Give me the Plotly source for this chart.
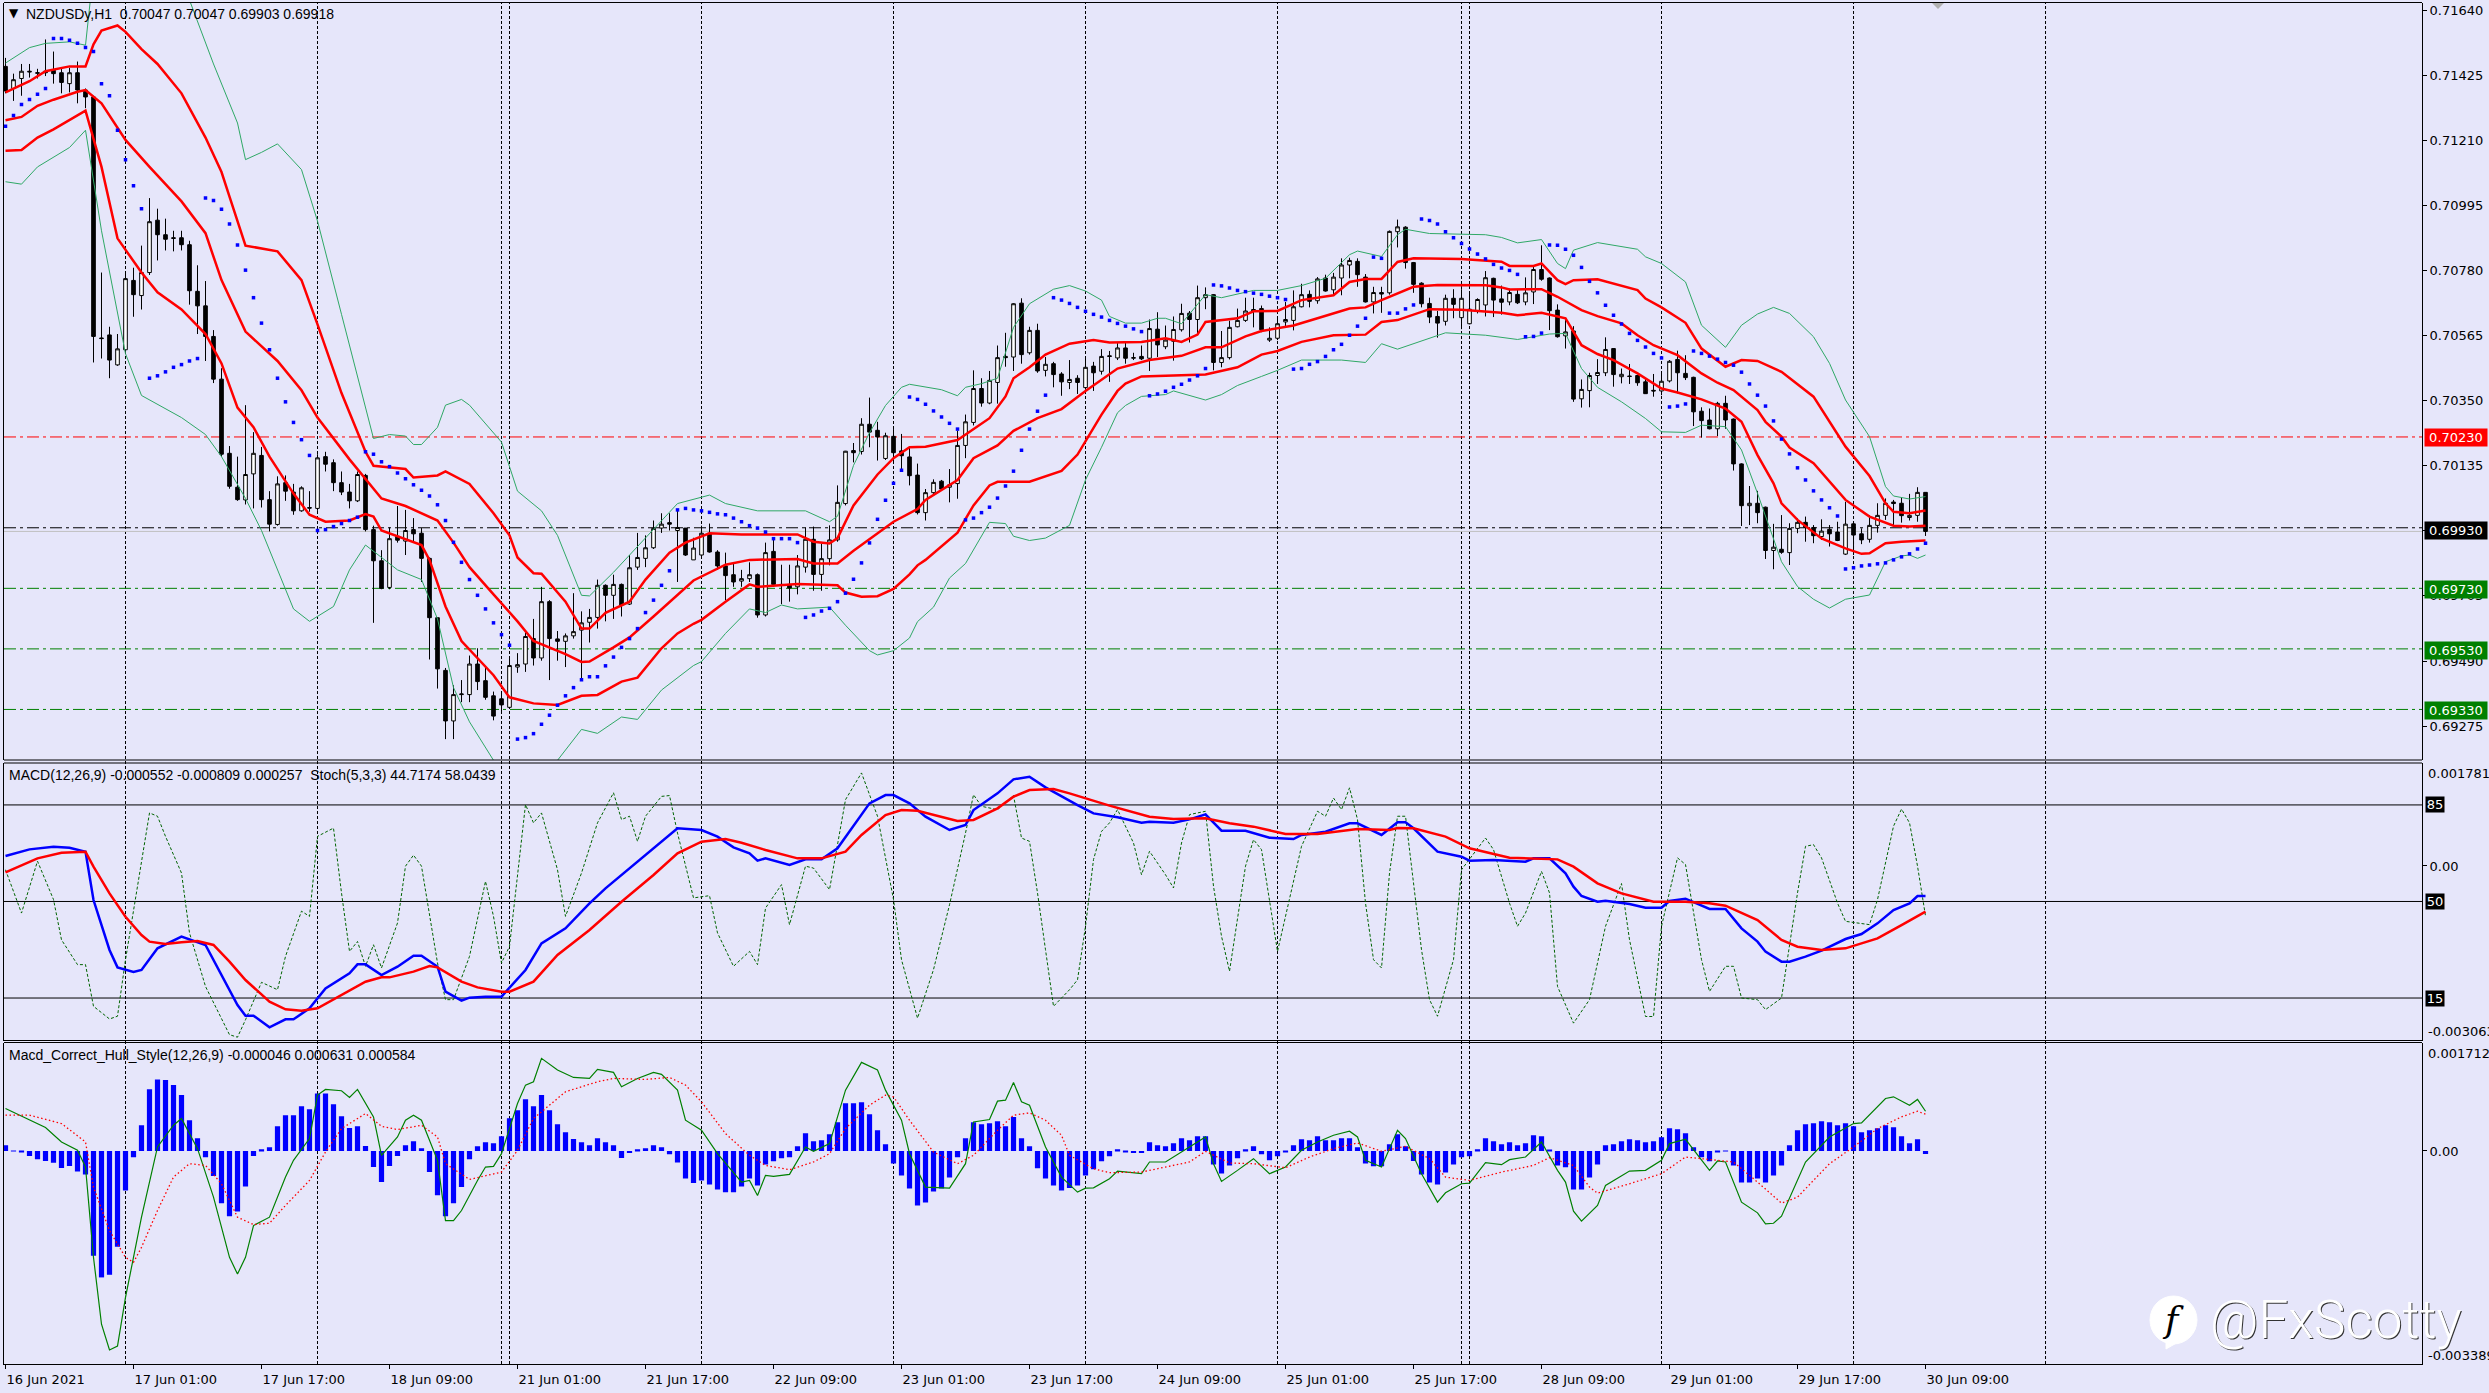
import plotly.graph_objects as go

W, H = 2489, 1393
def px(x): return x / W
def py(y): return 1 - y / H

# ---------- candles (price points, 1e-5) ----------
open_ = [71454,71381,71414,71438,71431,71438,71441,71433,71397,71433,
71376,71353,70557,70567,70468,70518,70747,70697,70773,70946,
70898,70888,70888,70865,70711,70663,70562,70421,70176,70064,
70022,70108,70169,70023,69941,70079,70048,69986,69997,69994,
70165,70145,70079,70048,70019,70103,69924,69821,69733,69902,
69886,69924,69912,69829,69633,69459,69292,69379,69379,69480,
69425,69375,69365,69337,69470,69480,69564,69500,69686,69563,
69555,69573,69592,69618,69634,69740,69707,69743,69678,69800,
69829,69864,69929,69947,69921,69929,69824,69840,69912,69850,
69804,69775,69754,69762,69775,69642,69852,69743,69743,69735,
69800,69892,69776,69828,69890,70010,70185,70182,70272,70252,
70159,70232,70184,70164,70104,69980,70046,70084,70064,70076,
70202,70278,70390,70342,70410,70496,70494,70672,70508,70582,
70450,70472,70438,70410,70424,70393,70464,70447,70498,70491,
70524,70490,70496,70490,70586,70528,70546,70584,70639,70618,
70690,70700,70476,70492,70594,70615,70651,70654,70550,70556,
70610,70615,70660,70701,70680,70755,70716,70755,70798,70810,
70758,70676,70707,70706,70908,70923,70806,70738,70671,70628,
70612,70688,70624,70604,70647,70666,70754,70686,70676,70701,
70676,70709,70783,70755,70649,70564,70580,70356,70383,70433,
70442,70522,70429,70431,70433,70412,70384,70382,70415,70486,
70440,70427,70315,70286,70257,70341,70289,70141,70003,70011,
69998,69855,69859,69848,69928,69948,69931,69901,69925,69916,
69843,69943,69910,69892,69938,69971,70015,70011,69964,69971,70047]
high = [71482,71430,71462,71462,71446,71543,71503,71449,71449,71470,
71381,71357,70773,70594,70570,70773,70789,70862,71019,70984,
70951,70911,70911,70878,70797,70745,70583,70457,70200,70165,
70335,70246,70197,70051,70100,70103,70075,70067,70051,70173,
70181,70156,70116,70075,70116,70108,69937,69856,69931,70002,
69989,69962,69929,69832,69633,69467,69410,69427,69508,69532,
69470,69389,69389,69503,69516,69584,69629,69735,69691,69589,
69581,69714,69654,69662,69759,69743,69775,69746,69840,69913,
69905,69954,69978,69978,69986,69929,69897,69937,69944,69856,
69848,69816,69791,69816,69779,69881,69897,69808,69808,69840,
69932,69934,69878,69938,70070,70184,70210,70292,70360,70280,
70244,70256,70240,70196,70142,70058,70090,70088,70124,70250,
70304,70450,70424,70448,70532,70574,70672,70688,70594,70604,
70494,70478,70444,70484,70434,70494,70478,70520,70514,70540,
70542,70508,70532,70618,70642,70598,70628,70670,70646,70730,
70724,70702,70580,70614,70654,70690,70690,70664,70592,70626,
70676,70714,70736,70714,70758,70766,70772,70820,70822,70820,
70768,70726,70726,70912,70948,70926,70808,70741,70690,70646,
70700,70718,70718,70712,70688,70778,70756,70730,70720,70718,
70757,70797,70863,70757,70668,70621,70596,70420,70442,70487,
70559,70522,70456,70471,70434,70423,70438,70438,70484,70515,
70500,70429,70328,70324,70346,70366,70291,70143,70068,70052,
70000,69943,69972,69945,69961,69967,69939,69958,69939,69950,
70016,69950,69928,69972,70011,70027,70022,70031,70042,70064,70047]
low = [71365,71340,71357,71417,71414,71422,71397,71365,71368,71332,
71316,70476,70489,70424,70465,70505,70627,70651,70765,70813,
70846,70843,70846,70667,70570,70481,70408,70165,70059,70019,
70007,69994,69997,69918,69937,70019,69973,69983,69983,69986,
70116,70051,70038,69994,70015,69918,69616,69727,69727,69881,
69840,69881,69751,69495,69399,69232,69232,69354,69354,69394,
69362,69294,69321,69334,69451,69454,69475,69491,69427,69491,
69470,69564,69431,69551,69597,69621,69629,69637,69675,69791,
69800,69860,69913,69921,69751,69837,69824,69837,69848,69791,
69691,69735,69735,69751,69633,69637,69735,69678,69686,69710,
69782,69722,69722,69806,69884,70004,70146,70172,70196,70152,
70154,70142,70118,70070,69974,69954,70042,70052,70014,70026,
70160,70268,70330,70338,70340,70462,70448,70472,70502,70442,
70430,70394,70366,70388,70372,70386,70382,70436,70412,70484,
70472,70484,70484,70448,70494,70520,70482,70578,70542,70568,
70652,70450,70460,70486,70592,70610,70592,70576,70544,70550,
70590,70582,70658,70658,70670,70710,70700,70698,70754,70726,
70674,70638,70640,70700,70856,70786,70706,70658,70606,70558,
70598,70622,70586,70602,70638,70628,70626,70634,70665,70669,
70665,70669,70746,70583,70558,70522,70346,70327,70328,70405,
70431,70396,70407,70405,70399,70372,70363,70368,70410,70374,
70418,70266,70228,70255,70233,70257,70119,69936,69939,69945,
69827,69793,69844,69807,69912,69884,69879,69890,69868,69886,
69840,69840,69876,69881,69914,69956,69934,69947,69954,69950,69903]
close = [71373,71410,71438,71436,71433,71433,71430,71401,71433,71376,
71353,70562,70555,70484,70521,70753,70700,70773,70941,70898,
70883,70886,70865,70713,70663,70562,70421,70173,70067,70023,
70106,70176,70023,69942,70075,70051,69986,70062,69995,70161,
70140,70079,70048,70019,70106,69924,69821,69730,69894,69889,
69921,69910,69829,69633,69464,69292,69379,69381,69480,69422,
69370,69308,69345,69475,69478,69571,69500,69686,69564,69555,
69573,69587,69616,69634,69740,69707,69743,69675,69798,69832,
69864,69928,69942,69942,69931,69840,69863,69912,69850,69804,
69772,69751,69762,69775,69642,69848,69743,69741,69731,69804,
69892,69776,69828,69890,70014,70183,70178,70272,70246,70230,
70234,70178,70168,70102,69980,70046,70080,70058,70072,70202,
70280,70390,70342,70417,70492,70492,70670,70502,70582,70448,
70470,70436,70412,70420,70410,70460,70442,70496,70496,70524,
70490,70492,70488,70588,70534,70550,70585,70638,70618,70690,
70700,70476,70492,70592,70615,70646,70646,70584,70556,70604,
70618,70660,70700,70678,70752,70712,70758,70798,70813,70766,
70676,70707,70702,70909,70924,70806,70734,70670,70626,70606,
70688,70668,70688,70652,70684,70756,70682,70675,70707,70673,
70706,70783,70751,70647,70561,70577,70355,70387,70433,70443,
70519,70436,70437,70430,70409,70373,70382,70414,70480,70442,
70426,70313,70284,70257,70341,70286,70141,70003,70011,69980,
69855,69866,69849,69928,69948,69931,69904,69919,69910,69888,
69942,69906,69890,69938,69971,70011,70010,69970,69971,70047,69918]

# ---------- parabolic SAR, one per bar ----------
sar = [71256,71292,71328,71345,71362,71381,71546,71546,71540,71530,
71516,71503,71397,71357,71243,71146,71060,70984,70424,70432,
70445,70460,70469,70481,70489,71019,71011,70982,70933,70864,
70781,70690,70606,70518,70424,70346,70278,70221,70169,69921,
69924,69934,69944,69954,69965,70181,70173,70148,70132,70111,
70092,70072,70054,70035,70006,69954,69882,69816,69759,69707,
69662,69616,69577,69542,69232,69237,69250,69281,69311,69344,
69375,69402,69428,69438,69438,69474,69503,69535,69564,69597,
69650,69691,69740,69788,69989,69994,69989,69986,69981,69976,
69973,69962,69950,69937,69929,69916,69894,69894,69894,69881,
69634,69642,69655,69664,69686,69714,69760,69814,69880,69958,
70021,70077,70120,70362,70354,70338,70316,70296,70275,70256,
69956,69962,69980,69998,70028,70068,70117,70186,70256,70315,
70368,70690,70682,70671,70658,70645,70635,70626,70615,70605,
70596,70587,70578,70366,70372,70381,70394,70404,70418,70432,
70456,70732,70729,70722,70714,70710,70705,70701,70695,70690,
70684,70454,70456,70470,70479,70496,70518,70536,70566,70596,
70622,70824,70820,70639,70639,70653,70666,70950,70945,70933,
70908,70888,70869,70851,70834,70818,70800,70788,70780,70767,
70561,70562,70573,70864,70863,70850,70830,70790,70744,70706,
70665,70632,70603,70572,70549,70527,70506,70491,70329,70332,
70339,70514,70506,70497,70487,70476,70467,70444,70405,70368,
70332,70283,70223,70174,70128,70088,70052,70022,69996,69969,
69794,69798,69804,69807,69811,69814,69824,69834,69844,69860,69879]

# ---------- red envelope ----------
red_up_i = [0,3,5,8,10,11,12,14,15,17,19,22,25,27,28,30,34,37,39,42,45,46,50,51,54,55,58,61,63,64,66,67,70,72,73,75,78,80,83,85,88,92,95,99,101,103,104,106,109,111,113,115,119,121,123,125,126,128,130,133,136,138,142,145,147,149,150,154,156,159,162,166,168,170,172,174,176,182,185,187,188,191,192,194,195,196,199,201,204,205,207,210,212,215,217,219,222,226,227,230,233,235,236,238,240]
red_up = [71368,71405,71438,71454,71454,71527,71572,71589,71568,71511,71462,71365,71219,71105,71024,70862,70843,70748,70602,70375,70181,70135,70124,70096,70103,70116,70075,69978,69905,69832,69780,69778,69686,69597,69597,69649,69686,69759,69848,69881,69912,69908,69908,69908,69884,69878,69896,70004,70106,70160,70196,70198,70220,70256,70292,70364,70424,70460,70502,70538,70550,70542,70544,70556,70544,70568,70610,70622,70645,70646,70682,70698,70742,70752,70752,70808,70820,70818,70814,70809,70795,70795,70803,70748,70735,70748,70751,70737,70715,70687,70658,70607,70522,70462,70484,70481,70445,70363,70322,70198,70101,70011,69983,69978,69987]
red_mid_i = [0,2,4,6,9,10,12,15,18,22,25,27,30,34,37,39,43,45,47,50,54,56,58,61,64,66,70,72,73,76,78,81,84,86,90,93,99,101,104,106,111,114,115,119,121,124,126,129,132,135,139,143,147,150,152,155,157,161,164,168,170,172,176,179,185,187,188,192,194,197,199,202,204,206,209,212,214,216,219,220,222,223,226,228,230,233,236,238,240]
red_mid = [71276,71287,71324,71344,71370,71376,71332,71211,71122,71008,70903,70748,70578,70481,70384,70294,70156,70092,70027,70002,69954,69881,69800,69710,69621,69556,69513,69487,69488,69535,69568,69637,69710,69756,69808,69824,69827,69812,69812,69854,69950,69992,70022,70088,70160,70202,70250,70292,70322,70382,70456,70484,70498,70526,70526,70562,70580,70598,70622,70654,70658,70682,70726,70732,70731,70724,70717,70718,70693,70649,70629,70605,70566,70533,70500,70440,70409,70385,70319,70280,70231,70195,70143,70082,70022,69967,69937,69934,69937]
red_lo_i = [0,2,4,6,10,12,14,17,19,22,25,27,29,31,33,36,38,40,43,45,46,47,52,53,55,57,61,63,66,69,72,74,77,79,82,84,86,87,90,93,94,99,104,105,107,109,111,113,114,115,119,121,123,124,128,132,134,137,139,140,142,150,154,157,159,162,166,170,172,174,178,182,187,189,192,195,197,199,201,204,207,209,212,215,217,219,221,222,224,227,230,232,233,235,237,240]
red_lo = [71175,71178,71219,71246,71308,71122,70886,70773,70708,70651,70570,70473,70327,70262,70165,70043,69973,69950,69954,69975,69967,69921,69873,69824,69670,69556,69443,69370,69350,69345,69375,69378,69422,69435,69532,69581,69613,69626,69686,69743,69735,69744,69740,69716,69702,69704,69728,69776,69806,69824,69914,70004,70070,70082,70082,70118,70172,70304,70382,70406,70430,70436,70460,70502,70514,70544,70566,70568,70610,70616,70652,70650,70640,70632,70640,70622,70533,70504,70484,70440,70390,70377,70354,70324,70280,70170,70077,70011,69956,69895,69862,69844,69846,69879,69884,69888]

# ---------- green envelope ----------
grn_up_i = [0,3,5,8,10,11,15,21,23,26,29,30,32,34,37,39,42,45,46,48,50,51,52,54,55,57,58,62,63,64,67,69,72,73,76,78,82,84,88,90,94,99,100,103,104,106,108,110,112,113,115,117,119,120,122,124,126,128,131,133,135,137,138,140,142,144,145,147,150,152,156,159,162,165,168,169,172,174,175,178,185,187,189,192,194,195,196,199,204,205,207,210,212,215,217,219,221,223,226,228,230,233,235,236,238,240]
grn_up = [71465,71516,71530,71535,71524,71770,71868,71754,71673,71462,71267,71146,71170,71198,71113,70943,70635,70327,70225,70238,70233,70205,70205,70262,70335,70354,70335,70213,70132,70051,69986,69905,69707,69705,69783,69840,69954,70010,70038,70010,69986,69986,69986,69950,69968,70136,70244,70334,70394,70404,70394,70386,70366,70394,70406,70424,70592,70670,70718,70730,70712,70682,70628,70606,70606,70622,70622,70604,70700,70690,70714,70714,70730,70754,70832,70844,70826,70898,70916,70902,70898,70889,70871,70882,70803,70786,70847,70872,70850,70825,70803,70742,70599,70526,70599,70636,70658,70638,70561,70473,70352,70231,70066,70035,70025,70033]
grn_lo_i = [0,2,4,8,10,12,15,17,22,25,27,30,32,34,36,38,41,43,45,47,49,52,54,56,58,61,65,68,69,72,74,77,79,82,86,87,90,93,95,97,99,103,105,108,109,111,113,114,116,118,120,123,125,126,128,130,133,135,137,139,140,142,145,146,150,152,154,157,159,162,167,170,172,174,176,180,185,187,189,193,195,197,199,202,205,207,210,212,215,217,219,222,224,226,228,230,233,235,237,238,239,240]
grn_lo = [71073,71065,71122,71186,71243,70911,70505,70367,70294,70238,70165,70027,69921,69791,69662,69621,69670,69791,69873,69832,69791,69759,69629,69402,69289,69162,68997,69045,69162,69264,69251,69305,69297,69394,69475,69488,69581,69662,69650,69675,69662,69668,69608,69524,69510,69524,69566,69620,69668,69764,69812,69948,69944,69902,69888,69896,69938,70088,70196,70310,70334,70364,70370,70382,70352,70370,70400,70430,70450,70484,70484,70476,70538,70520,70538,70574,70566,70558,70552,70570,70572,70456,70394,70346,70291,70247,70245,70269,70264,70187,70044,69818,69736,69694,69665,69694,69708,69818,69837,69840,69829,69840]

# ---------- MACD panel (1e-6) ----------
macd_i = [0,3,6,8,10,11,13,14,16,17,19,22,25,26,29,30,31,33,35,36,38,40,43,44,45,47,49,51,52,54,55,57,58,60,62,65,67,70,73,75,77,81,84,87,89,91,93,94,95,98,100,102,104,108,110,111,113,115,118,120,121,124,126,128,130,134,136,139,142,143,146,148,150,152,155,158,161,162,165,168,169,172,174,175,176,179,182,183,186,190,191,193,195,196,197,199,200,203,205,207,208,210,213,215,217,219,220,222,223,225,227,230,232,234,236,238,239,240]
macd = [173,289,336,318,249,-592,-1461,-1763,-1844,-1809,-1432,-1229,-1374,-1635,-2418,-2603,-2603,-2806,-2667,-2667,-2476,-2128,-1867,-1711,-1711,-1896,-1751,-1560,-1560,-1751,-2186,-2342,-2290,-2273,-2273,-1809,-1345,-1085,-650,-389,-157,307,655,626,510,324,220,92,133,17,115,115,307,1089,1234,1234,1089,858,626,713,973,1263,1507,1553,1368,1060,915,846,753,771,753,811,898,614,614,492,469,539,597,742,742,539,759,759,655,249,162,92,104,75,133,133,-128,-360,-522,-621,-603,-661,-725,-725,-609,-569,-748,-748,-1085,-1316,-1490,-1664,-1664,-1577,-1473,-1270,-1183,-998,-766,-650,-522,-522]
signal_i = [0,2,4,7,10,11,13,15,17,18,20,22,24,26,28,30,33,35,37,39,42,45,47,48,51,53,54,57,59,62,63,66,69,73,77,81,84,87,90,92,95,99,102,105,107,110,112,114,119,121,124,126,128,131,133,138,143,146,150,153,156,160,164,169,173,174,176,180,183,186,188,194,196,199,202,206,210,213,215,219,222,224,227,230,234,237,240]
signal = [-111,17,133,231,249,-12,-476,-882,-1200,-1316,-1357,-1328,-1305,-1374,-1664,-1983,-2360,-2493,-2516,-2476,-2244,-2012,-1937,-1937,-1838,-1740,-1763,-2012,-2111,-2186,-2186,-2012,-1548,-1113,-621,-157,220,423,469,405,278,133,133,249,539,886,973,962,782,800,1002,1205,1321,1339,1263,1049,858,817,829,742,684,556,556,643,626,660,655,510,307,208,144,115,-12,-302,-476,-621,-621,-650,-690,-940,-1287,-1403,-1461,-1432,-1258,-1027,-795]
stoch_i = [0,2,4,6,7,9,10,11,13,14,15,17,18,19,20,22,23,25,26,28,29,30,32,34,35,37,38,39,41,42,43,44,45,46,47,49,50,51,52,54,55,56,58,60,61,62,63,65,66,67,69,70,72,74,76,77,78,79,80,82,83,84,86,88,89,91,93,94,95,97,98,100,101,103,105,107,109,111,112,114,116,118,120,121,122,124,126,127,128,129,130,131,133,134,135,136,137,138,139,141,142,143,145,146,147,148,150,151,152,153,155,156,157,159,162,164,165,166,167,168,169,170,171,172,173,174,175,177,178,179,181,182,185,186,188,189,190,192,193,194,196,198,200,202,203,205,206,207,209,210,212,213,215,216,217,219,220,222,224,225,226,227,229,230,233,234,236,237,238,239,240]
stoch = [61.5,45.8,64.6,50.7,36.1,27.1,27.1,12,7.4,8.4,28.9,65.2,82.1,80.9,73.6,60.3,38.6,19.2,13.2,1.7,0.8,7.1,20.7,18,30.1,46.5,44.6,73.6,76.6,53.1,31.9,35.5,26.5,34.3,25.9,42.2,62.8,66.8,62.8,27.7,14.4,14.4,30.1,57.3,44.6,27.7,33.7,85.1,78.5,82.1,61.5,44.6,60.3,78.5,89.4,79.7,80.9,71.8,80.9,88.1,88.4,74.8,51.3,52.1,38.6,26.5,31.9,27.1,47.6,56.1,41.6,62.8,62.1,54.3,86.9,96.6,80.9,50.7,28.9,7.7,25.3,48.8,74.8,88.7,84.5,83.3,88.4,73,71.8,53.1,32.5,12,18,21.6,41,65.2,75.4,78.5,83.3,71.2,59.7,68.2,59.7,54.9,71.2,81.5,82.7,55.5,37.4,24.7,62.8,72.4,68.8,31.9,70,82.7,80.9,87.5,83.3,91.2,79.7,49.4,28.9,25.9,60.3,80.9,80.9,32.5,14.4,8.4,28.9,61.5,73,68.8,49.4,41,45.8,60.9,53.1,19.2,5.9,14.4,41,56.5,36.1,8.3,8.3,41,65.8,63.4,28.9,17.4,26.5,26.5,15,14.4,10.8,15,53.1,70,70.6,65.8,49.4,42.8,41.6,50.7,77.3,83.5,78.5,62.8,44.7]

# ---------- Hull MACD panel (1e-6) ----------
hist = [90,5,-10,-80,-133,-160,-186,-271,-239,-324,-372,-1664,-2009,-1967,-1520,-627,-101,409,983,1137,
1127,1047,888,489,202,-101,-399,-829,-1036,-962,-563,-80,27,58,393,569,569,712,664,914,
914,744,553,367,393,80,-255,-494,-239,-80,90,154,43,-335,-702,-1036,-829,-574,-133,74,
138,122,234,521,648,824,712,888,648,425,298,191,138,90,202,138,90,-112,-32,27,
43,90,58,-53,-181,-436,-510,-468,-532,-611,-654,-654,-563,-436,-547,-213,-165,-117,-101,74,
282,154,170,266,457,760,760,776,585,330,106,-197,-388,-595,-866,-819,-643,-595,-420,-101,
202,457,425,441,473,393,542,202,74,-276,-436,-547,-627,-590,-547,-388,-292,-165,-85,27,
-11,-32,-32,138,90,74,122,202,170,234,234,-213,-356,-229,-117,27,74,-53,-149,-85,
-21,90,186,170,234,170,170,202,202,58,-197,-244,-244,106,266,74,-159,-372,-500,-532,
-340,-213,-101,-85,27,202,154,106,138,90,122,250,234,11,-229,-260,-611,-611,-420,-213,
90,106,154,186,170,138,154,218,361,345,282,58,-101,-165,-21,-5,-229,-500,-500,-436,
-500,-388,-229,90,330,425,441,473,457,409,441,393,298,330,361,409,377,234,122,186,-46]
hull_i = [0,2,5,7,9,10,11,12,13,14,15,17,19,21,22,24,26,28,29,30,31,33,35,36,38,39,40,42,43,44,46,47,49,50,51,52,54,55,56,57,59,60,61,62,64,65,66,67,69,71,73,74,76,77,79,81,82,84,85,87,89,92,93,94,95,96,98,100,101,103,105,107,109,110,112,113,115,118,120,121,123,124,125,126,127,128,130,132,134,135,136,138,139,142,143,145,147,150,151,152,154,156,158,160,162,164,166,168,169,170,172,174,175,176,177,179,180,182,183,185,187,188,190,192,194,195,196,197,199,200,203,205,207,208,210,213,214,215,217,219,220,221,222,225,228,231,232,235,236,238,239,240]
hull = [675,553,372,144,11,-255,-1690,-2753,-3162,-3099,-2328,-1052,64,409,516,37,-733,-1690,-1956,-1690,-1185,-1052,-415,-149,197,888,978,957,850,978,542,-69,223,489,569,489,-149,-1106,-1106,-946,-468,-255,-244,-43,755,1047,1100,1472,1286,1169,1153,1297,1249,1020,1153,1249,1217,967,489,330,-43,-494,-468,-707,-388,-404,-372,64,-5,117,967,1408,1286,967,489,-43,-574,-590,-202,462,500,792,808,1090,781,728,64,-415,-654,-590,-585,-441,-319,-361,-175,-175,-16,223,-202,-484,-308,-122,-361,-255,11,143,250,314,223,-149,-255,330,197,-69,-361,-813,-664,-521,-510,-186,-218,-138,-96,143,-308,-494,-956,-1116,-866,-547,-319,-308,-149,117,186,-308,-159,-175,-813,-983,-1159,-1148,-1036,-175,223,436,446,834,861,728,819,631]
hull_sig_i = [0,3,7,10,11,13,15,16,17,19,21,23,25,27,29,31,33,35,38,40,42,45,47,49,52,54,55,58,62,64,66,70,74,76,80,83,85,87,90,93,95,98,101,103,105,108,110,111,113,116,119,121,124,126,128,130,132,133,136,138,142,144,148,150,153,156,160,163,166,169,172,175,178,180,183,187,191,193,196,198,199,203,207,210,214,216,219,222,224,228,231,234,237,239,240]
hull_sig = [569,569,436,144,-574,-1265,-1690,-1770,-1531,-946,-415,-202,-229,-521,-1052,-1169,-1148,-866,-468,-16,356,595,393,340,409,223,-202,-452,-335,11,516,941,1100,1153,1137,1169,1047,781,276,-69,-229,-298,-175,-43,356,728,888,861,489,-16,-202,-69,330,569,606,489,250,-69,-282,-345,-335,-282,-175,-5,-191,-202,-266,-96,37,128,-5,74,-122,-415,-468,-335,-229,-106,-229,-574,-670,-521,-361,-96,-149,-175,-494,-829,-733,-202,64,356,542,632,584]

# ---------- axis and label text ----------
x_tick_idx = [0] + [16 * k for k in range(1, 16)]
x_tick_txt = ["16 Jun 2021","17 Jun 01:00","17 Jun 17:00","18 Jun 09:00","21 Jun 01:00","21 Jun 17:00",
              "22 Jun 09:00","23 Jun 01:00","23 Jun 17:00","24 Jun 09:00","25 Jun 01:00","25 Jun 17:00",
              "28 Jun 09:00","29 Jun 01:00","29 Jun 17:00","30 Jun 09:00"]
price_ticks = [0.71640,0.71425,0.71210,0.70995,0.70780,0.70565,0.70350,0.70135,0.69920,0.69705,0.69490,0.69275]
separators = [15,39,62,63,87,111,135,159,182,183,207,231,255]
levels = [(0.70230,"#FF0000"),(0.69930,"#000000"),(0.69730,"#008000"),(0.69530,"#008000"),(0.69330,"#008000")]
stoch_levels = [85,50,15]
bid_price = 0.69918

BG = "#E6E6FA"
LAB = dict(family="DejaVu Sans", size=13, color="#000000")
TITLE = dict(family="Liberation Sans", size=14, color="#000000")
pts = lambda a: [v / 1e5 for v in a]
mic = lambda a: [v / 1e6 for v in a]

fig = go.Figure()
bars = list(range(len(close)))
assert all(len(a) == 241 for a in (open_, high, low, close, sar, hist))

fig.add_trace(go.Candlestick(x=bars, open=pts(open_), high=pts(high), low=pts(low), close=pts(close),
    increasing=dict(line=dict(color="#000", width=1), fillcolor="#FFFFFF"),
    decreasing=dict(line=dict(color="#000", width=1), fillcolor="#000000"),
    whiskerwidth=0, xaxis="x", yaxis="y", hoverinfo="skip", showlegend=False))

def line(x, y, color, width, dash="solid", ya="y"):
    fig.add_trace(go.Scatter(x=x, y=y, mode="lines", line=dict(color=color, width=width, dash=dash),
                             xaxis="x", yaxis=ya, hoverinfo="skip", showlegend=False))

SEA = "#2FA866"
line(grn_up_i, pts(grn_up), SEA, 1)
line(grn_lo_i, pts(grn_lo), SEA, 1)
line(red_up_i, pts(red_up), "#FF0000", 2.5)
line(red_mid_i, pts(red_mid), "#FF0000", 2.5)
line(red_lo_i, pts(red_lo), "#FF0000", 2.5)
fig.add_trace(go.Scatter(x=bars, y=pts(sar), mode="markers", marker=dict(symbol="square", size=3.5, color="#0000FF"),
                         xaxis="x", yaxis="y", hoverinfo="skip", showlegend=False))

line(stoch_i, stoch, "#006400", 1, "3px,2px", "y2")
line(macd_i, mic(macd), "#0000FF", 2.5, ya="y3")
line(signal_i, mic(signal), "#FF0000", 2.5, ya="y3")

fig.add_trace(go.Bar(x=bars, y=mic(hist), width=0.65, marker=dict(color="#0000FF", line=dict(width=0)),
                     xaxis="x", yaxis="y4", hoverinfo="skip", showlegend=False))
line(hull_i, mic(hull), "#008000", 1.2, ya="y4")
line(hull_sig_i, mic(hull_sig), "#FF0000", 1.3, "1.5px,2.5px", "y4")

LEFT, RIGHT = 4, 2422
P1 = (2.5, 760); P2 = (763, 1040.5); P3 = (1042.5, 1364)
dom = lambda p: [py(p[1]), py(p[0])]

common_y = dict(showgrid=False, zeroline=False, showline=True, linecolor="#000", linewidth=1, mirror=True,
                side="right", ticks="outside", ticklen=4, tickcolor="#000", tickfont=LAB, anchor="x")
fig.update_layout(
    width=W, height=H, margin=dict(l=0, r=0, t=0, b=0), autosize=False,
    paper_bgcolor=BG, plot_bgcolor=BG, showlegend=False, boxgap=0.35, barmode="overlay",
    xaxis=dict(domain=[px(LEFT), px(RIGHT)], range=[-0.1875, 302.06], rangeslider=dict(visible=False),
               showgrid=False, zeroline=False, showline=True, linecolor="#000", linewidth=1,
               tickmode="array", tickvals=x_tick_idx, ticktext=x_tick_txt, ticks="outside", ticklen=4,
               tickcolor="#000", tickfont=LAB, ticklabelposition="outside right", ticklabelstandoff=3,
               anchor="y4", tickangle=0),
    yaxis=dict(domain=dom(P1), range=[0.69163, 0.71665], tickmode="array", tickvals=price_ticks,
               ticktext=[f"{v:.5f}" for v in price_ticks], **common_y),
    yaxis2=dict(domain=dom(P2), range=[-0.4, 100.2], showticklabels=False, showgrid=False, zeroline=False,
                showline=True, linecolor="#000", mirror=True, side="right", ticks="", anchor="x"),
    yaxis3=dict(domain=dom(P2), range=[-0.003035, 0.001791], overlaying="y2", tickmode="array", tickvals=[0],
                ticktext=["0.00"], **common_y),
    yaxis4=dict(domain=dom(P3), range=[-0.003385, 0.001724], tickmode="array", tickvals=[0],
                ticktext=["0.00"], **common_y),
)

shapes = []
for i in separators:
    shapes.append(dict(type="line", xref="x", yref="paper", x0=i, x1=i, y0=py(P3[1]), y1=py(P1[0]),
                       line=dict(color="#000", width=1, dash="3px,2px"), layer="below"))
for v, c in levels:
    shapes.append(dict(type="line", xref="paper", yref="y", x0=px(LEFT), x1=px(RIGHT), y0=v, y1=v,
                       line=dict(color=c, width=1, dash="12px,4px,3px,4px"), layer="below"))
shapes.append(dict(type="line", xref="paper", yref="y", x0=px(LEFT), x1=px(RIGHT), y0=bid_price, y1=bid_price,
                   line=dict(color="#C0C0C0", width=1), layer="below"))
for v in stoch_levels:
    shapes.append(dict(type="line", xref="paper", yref="y2", x0=px(LEFT), x1=px(RIGHT), y0=v, y1=v,
                       line=dict(color="#000", width=1), layer="below"))
for y in (P1[0], P1[1], P2[0], P2[1], P3[0]):
    shapes.append(dict(type="line", xref="paper", yref="paper", x0=px(LEFT), x1=px(RIGHT), y0=py(y), y1=py(y),
                       line=dict(color="#000", width=1)))
shapes.append(dict(type="circle", xref="paper", yref="paper", x0=px(2150), x1=px(2197), y0=py(1344), y1=py(1296),
                   fillcolor="#FFFFFF", line=dict(color="#FFFFFF", width=1)))
shapes.append(dict(type="path", xref="paper", yref="paper",
                   path=f"M {px(2166)} {py(1338)} L {px(2166)} {py(1349)} L {px(2180)} {py(1341)} Z",
                   fillcolor="#FFFFFF", line=dict(color="#FFFFFF", width=1)))
shapes.append(dict(type="path", xref="paper", yref="paper",
                   path=f"M {px(1932)} {py(3)} L {px(1944)} {py(3)} L {px(1938)} {py(9)} Z",
                   fillcolor="#B0B0B0", line=dict(color="#B0B0B0", width=0)))
fig.update_layout(shapes=shapes)

ann = []
def text(s, x, y, font=TITLE, xa="left", ya="middle", **kw):
    ann.append(dict(text=s, xref="paper", yref="paper", x=px(x), y=py(y), xanchor=xa, yanchor=ya,
                    showarrow=False, font=font, borderpad=0, **kw))

text("▼", 8, 13, dict(family="DejaVu Sans", size=12, color="#000"))
text("NZDUSDy,H1  0.70047 0.70047 0.69903 0.69918", 25, 14)
text("MACD(12,26,9) -0.000552 -0.000809 0.000257  Stoch(5,3,3) 44.7174 58.0439", 8, 775)
text("Macd_Correct_Hull_Style(12,26,9) -0.000046 0.000631 0.000584", 8, 1055)
text("0.001781", 2427, 773, LAB)
text("-0.003063", 2427, 1031, LAB)
text("0.001712", 2427, 1053, LAB)
text("-0.003389", 2427, 1355, LAB)

TAG = dict(family="DejaVu Sans", size=13, color="#FFFFFF")
for v, c, yc in [("0.70230","#FF0000",438),("0.69930","#000000",530),("0.69730","#008000",589),
                 ("0.69530","#008000",650),("0.69330","#008000",710)]:
    text(v, 2424, yc, TAG, bgcolor=c, width=62, height=17, align="center")
for v, yc in [("85",805),("50",901),("15",998)]:
    text(v, 2424.5, yc, TAG, bgcolor="#000000", width=18, height=15, align="center")

WM = dict(family="Roboto", size=53, weight=300)
text("@FxScotty", 2210, 1321, dict(WM, color="#333333"))
text("@FxScotty", 2208.5, 1319.5, dict(WM, color="#FFFFFF"))
text("f", 2173, 1319, dict(family="DejaVu Serif", size=36, style="italic", color="#000000"), xa="center")
fig.update_layout(annotations=ann)

fig.write_html("out.html", config=dict(displayModeBar=False),
               post_script="document.body.style.margin='0';document.body.style.overflow='hidden';document.body.style.background='#E6E6FA';")
